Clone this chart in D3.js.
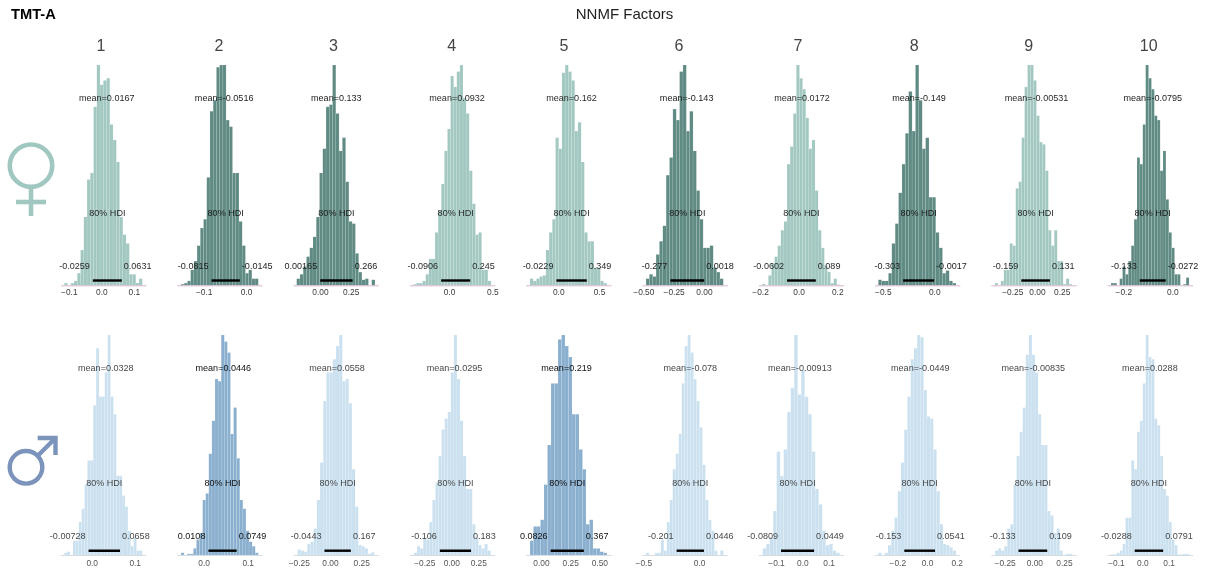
<!DOCTYPE html>
<html><head><meta charset="utf-8">
<script src="https://cdnjs.cloudflare.com/ajax/libs/d3/7.8.5/d3.min.js"></script>
<style>html,body{margin:0;padding:0;background:#fff}svg{display:block}text{font-family:"Liberation Sans",Arial,sans-serif}</style>
</head><body><div id="chart"></div>
<script>
// ---------- data ----------
const factorNames = ["1","2","3","4","5","6","7","8","9","10"];

const femaleHighlighted = [false,true,true,false,false,true,false,true,false,true];
const maleHighlighted   = [false,true,false,false,true,false,false,false,false,false];

const femaleMeans = [0.0167,-0.0516,0.133,0.0932,0.162,-0.143,0.0172,-0.149,-0.00531,-0.0795];
const femaleHdiLo = [-0.0259,-0.0815,0.00165,-0.0906,-0.0229,-0.277,-0.0602,-0.303,-0.159,-0.133];
const femaleHdiHi = [0.0631,-0.0145,0.266,0.245,0.349,0.0018,0.089,-0.0017,0.131,-0.0272];

const maleMeans = [0.0328,0.0446,0.0558,0.0295,0.219,-0.078,-0.00913,-0.0449,-0.00835,0.0288];
const maleHdiLo = [-0.00728,0.0108,-0.0443,-0.106,0.0826,-0.201,-0.0809,-0.153,-0.133,-0.0288];
const maleHdiHi = [0.0658,0.0749,0.167,0.183,0.367,0.0446,0.0449,0.0541,0.109,0.0791];

// axis limits and outer histogram edges, in data units
const femaleAxisLimits = [[-0.1255,0.1369],[-0.1636,0.0381],[-0.2192,0.476],[-0.457,0.527],[-0.4,0.647],[-0.511,0.192],[-0.209,0.233],[-0.58,0.249],[-0.467,0.397],[-0.2657,0.0824]];
const femaleBinEdges   = [[-0.1138,0.1262],[-0.1537,0.0291],[-0.19,0.448],[-0.412,0.484],[-0.348,0.595],[-0.478,0.159],[-0.189,0.214],[-0.544,0.211],[-0.426,0.355],[-0.2502,0.0682]];
const maleAxisLimits   = [[-0.0726,0.1258],[-0.0611,0.1327],[-0.2952,0.3872],[-0.388,0.402],[-0.1311,0.5998],[-0.512,0.2543],[-0.1673,0.157],[-0.3529,0.2215],[-0.3656,0.353],[-0.1332,0.1905]];
const maleBinEdges     = [[-0.0637,0.1177],[-0.0516,0.1241],[-0.2584,0.3544],[-0.3454,0.3648],[-0.0943,0.5656],[-0.476,0.2183],[-0.1506,0.1422],[-0.328,0.1953],[-0.3311,0.3176],[-0.1184,0.1772]];

const femaleTicks = [[-0.1,0,0.1],[-0.1,0],[0,0.25],[0,0.5],[0,0.5],[-0.5,-0.25,0],[-0.2,0,0.2],[-0.5,0],[-0.25,0,0.25],[-0.2,0]];
const femaleTickLabels = [["\u22120.1","0.0","0.1"],["\u22120.1","0.0"],["0.00","0.25"],["0.0","0.5"],["0.0","0.5"],["\u22120.50","\u22120.25","0.00"],["\u22120.2","0.0","0.2"],["\u22120.5","0.0"],["\u22120.25","0.00","0.25"],["\u22120.2","0.0"]];
const maleTicks = [[0,0.1],[0,0.1],[-0.25,0,0.25],[-0.25,0,0.25],[0,0.25,0.5],[-0.5,0],[-0.1,0,0.1],[-0.2,0,0.2],[-0.25,0,0.25],[-0.1,0,0.1]];
const maleTickLabels = [["0.0","0.1"],["0.0","0.1"],["\u22120.25","0.00","0.25"],["\u22120.25","0.00","0.25"],["0.00","0.25","0.50"],["\u22120.5","0.0"],["\u22120.1","0.0","0.1"],["\u22120.2","0.0","0.2"],["\u22120.25","0.00","0.25"],["\u22120.1","0.0","0.1"]];

// histogram heights, percent of the tallest bin of each panel
const femaleF1  = [1,0,1,2,5.5,16,31,48,51,81,100,91,93,94,73,66,56,31,23,19,5,5,1,3];
const femaleF2  = [0.5,1,2,7,11,18,26,30,49,79,84,99,100,100,75,72,51,51,29,18,5.5,7,3,3];
const femaleF3  = [3,5,8.5,13,17,22,31,51,62,81,82,100,78,61,67,47,29,28,14.5,6,2.5,3,0,2.5];
const femaleF4  = [0.5,1,1,2,5,12,12,24,34,46,61,71,95,90,97,100,85,78,52,37,23,24,7,7,2];
const femaleF5  = [3,2,3,4,4.5,16,24,30,67,62,96.5,100,97,93,70,74,56,24,20,20,8,8,2,1];
const femaleF6  = [3,5,4,14,20,27,50,58,80,75,97,100,70,79,61,43,30,17,17,18,8,6,3];
const femaleF7  = [0.6,0,4.5,10,13,18,25,29,55,63,78,100,94,89,76,62,66,43,25,17,9,6,1,3,0.3];
const femaleF8  = [2.5,2,2,5.5,19,28,42,55,69,88,70,100,84,62,67,40,40,24,17,5.5,6.7,2,1];
const femaleF9  = [1,0,2,7,7,19,18,44,47,67,90,100,100,93,77,65,64,52,25,18,25,11,11,0.5,3,0.5];
const femaleF10 = [1,1,0,3,8.5,5,11,18,30,58,55,73,100,94,89,77,75,52,61,39,24,17,5,5,0,0.5,3.5];

const maleM1  = [1,1.5,0,6.5,6.5,15,21,32,43,43,68,94,72,72,83,100,72,64,36,36,27,22,11,4,8,2,2];
const maleM2  = [1,0,0.5,0.5,3,7,10,25,28,46,61,80,79,100,97,92,55,67,44,25,21,11,6,4,1];
const maleM3  = [2.5,2,1.5,5,6,12,25,42,70,83,83,89,95,100,79,80,69,39,22,4.5,4,3,0.5,1.2];
const maleM4  = [1,4,3,8,7,15,25,33,45,57,62,65,83,100,80,61,45,30,30,14,8,4.5,3,5,2];
const maleM5  = [6.5,13,13,16,32,50,78,78,98,100,95,90,64,64,48,39,14,16,3,3,1.5,1];
const maleM6  = [1,0,0,1,1,7,2,15,25,39,46,55,78,95,100,92,80,70,58,41,25,16,11,2,0,2];
const maleM7  = [3,5,8,20,47,36,48,65,76,100,73,84,72,64,47,30,23,11,4.5,5,2,1];
const maleM8  = [1,0,1,4.5,11,17,29,42,57,72,89,94,100,99,75,63,62,48,29,14,5,4.5,3.5,2];
const maleM9  = [2,3,2,4,12,14,32,45,56,67,91,100,91,83,64,50,50,20,18,10,12,2,0,0.5,0.5];
const maleM10 = [0.3,0.3,1,2,5,17,17,43,39,56,61,78,100,90,89,62,59,45,30,27,15,7,4.5,0.3,0.3,0.5,0.5];

const femaleHeights = [femaleF1,femaleF2,femaleF3,femaleF4,femaleF5,femaleF6,femaleF7,femaleF8,femaleF9,femaleF10];
const maleHeights   = [maleM1,maleM2,maleM3,maleM4,maleM5,maleM6,maleM7,maleM8,maleM9,maleM10];

// ---------- layout and style ----------
const W = 1205, H = 572;
const panelLeft = 60.5, panelStep = 116.3, panelWidth = 85.3;
const headerCenters = [101,219,333.5,451.7,564,679,798,914.3,1028.7,1148.7];
const rows = [
  {means:femaleMeans,lo:femaleHdiLo,hi:femaleHdiHi,axis:femaleAxisLimits,edges:femaleBinEdges,ticks:femaleTicks,tickLabels:femaleTickLabels,heights:femaleHeights,highlighted:femaleHighlighted,
   base:285.3,top:65,meanY:98,hdiTextY:213,valueY:266,barY:280.5,tickY:292.5,
   dark:"#608b84",light:"#a2c8c1",textDark:"#1c1c1c",textLight:"#2a2a2a",axisColor:"#d6b6d0",tickColor:"#3a3a3a"},
  {means:maleMeans,lo:maleHdiLo,hi:maleHdiHi,axis:maleAxisLimits,edges:maleBinEdges,ticks:maleTicks,tickLabels:maleTickLabels,heights:maleHeights,highlighted:maleHighlighted,
   base:555,top:335,meanY:367.7,hdiTextY:483.3,valueY:536.3,barY:550.7,tickY:562.5,
   dark:"#8bb0cf",light:"#cbe1f0",textDark:"#111",textLight:"#484848",axisColor:"#d3dde3",tickColor:"#555"}
];

const svg = d3.select("#chart").append("svg").attr("width",W).attr("height",H).attr("viewBox",`0 0 ${W} ${H}`);

const soft = svg.append("defs").append("filter").attr("id","soft")
  .attr("x",0).attr("y",0).attr("width",W).attr("height",H).attr("filterUnits","userSpaceOnUse");
soft.append("feGaussianBlur").attr("stdDeviation",0.35);
const page = svg.append("g").attr("filter","url(#soft)");

page.append("text").attr("x",11).attr("y",14).attr("dominant-baseline","central")
  .attr("font-size",14.7).attr("font-weight","bold").attr("fill","#000").text("TMT-A");
page.append("text").attr("x",624.5).attr("y",13.5).attr("dominant-baseline","central").attr("text-anchor","middle")
  .attr("font-size",15).attr("fill","#222").text("NNMF Factors");
page.selectAll("text.header").data(factorNames).join("text").attr("class","header")
  .attr("x",(d,i)=>headerCenters[i]).attr("y",45).attr("dominant-baseline","central").attr("text-anchor","middle")
  .attr("font-size",16).attr("fill","#444").text(d=>d);

// Venus symbol
const venus = page.append("g").attr("fill","none").attr("stroke","#a0c8c1").attr("stroke-width",4.6);
venus.append("circle").attr("cx",31).attr("cy",165.7).attr("r",21.2);
venus.append("line").attr("x1",31).attr("x2",31).attr("y1",188).attr("y2",216);
venus.append("line").attr("x1",16).attr("x2",46).attr("y1",202).attr("y2",202);
// Mars symbol
const mars = page.append("g").attr("fill","none").attr("stroke","#7b93bc").attr("stroke-width",4.4);
mars.append("circle").attr("cx",26).attr("cy",467.3).attr("r",16.3);
mars.append("line").attr("x1",38).attr("y1",455.5).attr("x2",55.5).attr("y2",438);
mars.append("polyline").attr("points","37.7,438 55.5,438 55.5,455");

rows.forEach(row=>{
  const y = d3.scaleLinear().domain([0,100]).range([row.base,row.top]);
  factorNames.forEach((name,i)=>{
    const left = panelLeft + i*panelStep;
    const x = d3.scaleLinear().domain(row.axis[i]).range([left,left+panelWidth]);
    const hot = row.highlighted[i];
    const heights = row.heights[i];
    const [e0,e1] = row.edges[i];
    const edge = d3.scaleLinear().domain([0,heights.length]).range([e0,e1]);
    const g = page.append("g");

    g.append("g").selectAll("rect").data(heights).join("rect")
      .attr("x",(d,k)=>x(edge(k)))
      .attr("width",(d,k)=>x(edge(k+1))-x(edge(k)))
      .attr("y",d=>y(d))
      .attr("height",d=>y(0)-y(d))
      .attr("fill",hot?row.dark:row.light)
      .attr("stroke","#fff").attr("stroke-opacity",0.2).attr("stroke-width",0.5);

    const axis = d3.axisBottom(x).tickValues(row.ticks[i])
      .tickFormat((d,k)=>row.tickLabels[i][k]).tickSize(0).tickPadding(0);
    const ag = g.append("g").attr("transform",`translate(0,${row.base})`).call(axis);
    ag.select(".domain").attr("stroke",row.axisColor).attr("stroke-width",1);
    ag.selectAll("text").attr("font-size",8.4).attr("fill",row.tickColor)
      .attr("font-family",'"Liberation Sans",Arial,sans-serif')
      .attr("y",row.tickY-row.base).attr("dy",0).attr("dominant-baseline","central");

    const lo = row.lo[i], hi = row.hi[i], mean = row.means[i];
    const tc = hot?row.textDark:row.textLight;
    g.append("line").attr("x1",x(lo)).attr("x2",x(hi)).attr("y1",row.barY).attr("y2",row.barY)
      .attr("stroke","#000").attr("stroke-width",2.4);
    const lab = (t,px,py,anchor)=>g.append("text").attr("x",px).attr("y",py)
      .attr("text-anchor",anchor).attr("dominant-baseline","central")
      .attr("font-size",9.05).attr("fill",tc).text(t);
    lab("mean="+mean,x(mean),row.meanY,"middle");
    lab("80% HDI",x((lo+hi)/2),row.hdiTextY,"middle");
    lab(String(lo),x(lo)-3,row.valueY,"end");
    lab(String(hi),x(hi)+2,row.valueY,"start");
  });
});
</script></body></html>
